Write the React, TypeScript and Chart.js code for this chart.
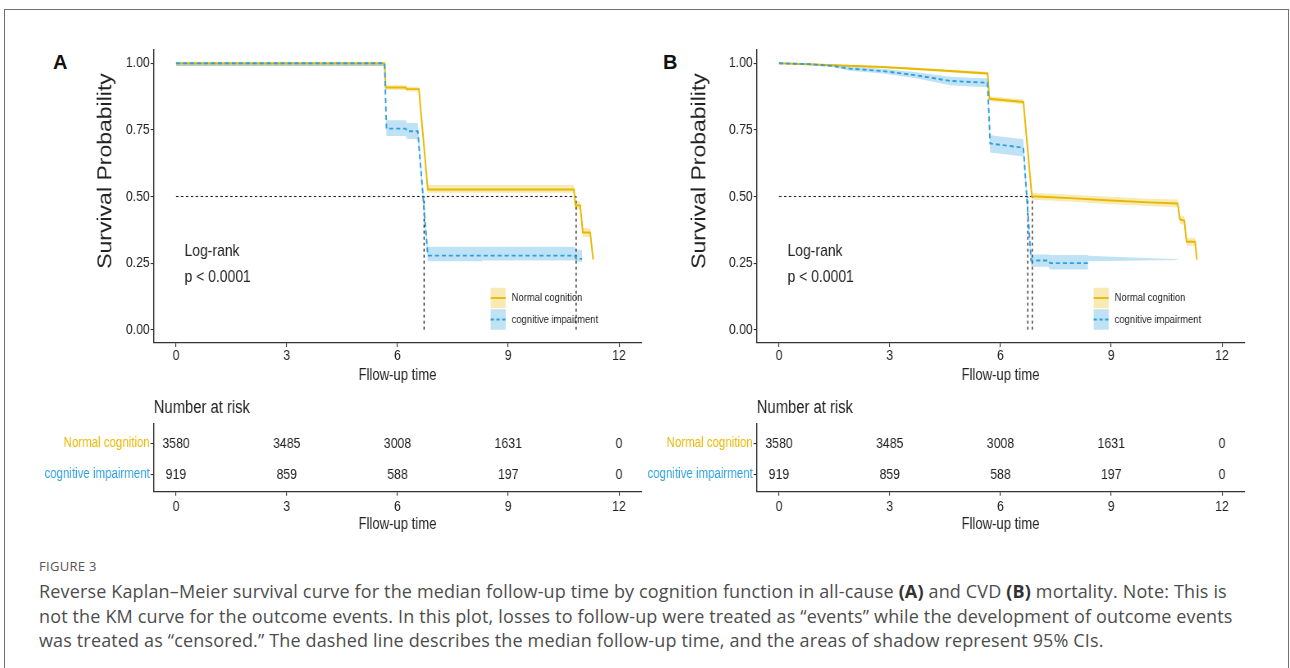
import React, { useEffect, useRef } from "react";
import { Chart, registerables } from "chart.js";

Chart.register(...registerables);

// ---------- colours & fonts ----------
const YELLOW = "#E7B800";
const BLUE = "#2E9FDF";
const YELLOW_BAND = "rgba(231,184,0,0.3)";
const BLUE_BAND = "rgba(46,159,223,0.3)";
const INK = "#222222";
const SANS = "'Liberation Sans', Arial, Helvetica, sans-serif";

// ---------- shared labels / ticks ----------
const timeTicks = [0, 3, 6, 9, 12];
const survivalTicks = [0, 0.25, 0.5, 0.75, 1];
const groupNames = ["Normal cognition", "cognitive impairment"];
const xTitle = "Fllow-up time";
const yTitle = "Survival Probability";
const riskTitle = "Number at risk";
const logRankText = ["Log-rank", "p < 0.0001"];
const medianLevel = 0.5;

// ---------- number at risk ----------
const riskTimes = [0, 3, 6, 9, 12];
const riskNormal = [3580, 3485, 3008, 1631, 0];
const riskImpaired = [919, 859, 588, 197, 0];

// ---------- Panel A (all-cause) ----------
const aNormalT = [0, 5.65, 5.68, 6.22, 6.25, 6.58, 6.82, 10.78, 10.82, 10.95, 11.02, 11.22, 11.3];
const aNormalS = [1.0, 1.0, 0.909, 0.909, 0.903, 0.903, 0.526, 0.526, 0.466, 0.466, 0.365, 0.365, 0.263];
const aNormalUp = [1.0, 1.0, 0.918, 0.918, 0.912, 0.912, 0.543, 0.543, 0.482, 0.482, 0.382, 0.382, 0.263];
const aNormalLo = [0.99, 0.99, 0.9, 0.9, 0.894, 0.894, 0.514, 0.514, 0.45, 0.45, 0.348, 0.348, 0.263];

const aImpT = [0, 5.65, 5.7, 6.22, 6.26, 6.55, 6.82, 10.8, 10.84, 11.0];
const aImpS = [1.0, 1.0, 0.755, 0.755, 0.745, 0.745, 0.278, 0.278, 0.266, 0.266];
const aImpBandT = [0, 5.65, 5.7, 6.22, 6.26, 6.55, 6.82, 8.3, 8.3, 10.8, 10.84, 11.0];
const aImpUp = [1.0, 1.0, 0.786, 0.786, 0.776, 0.776, 0.311, 0.311, 0.311, 0.311, 0.3, 0.3];
const aImpLo = [0.99, 0.99, 0.727, 0.727, 0.716, 0.716, 0.257, 0.257, 0.26, 0.26, 0.255, 0.255];
const aMedians = [6.72, 10.84];

// ---------- Panel B (CVD) ----------
const bNormalT = [0, 1.5, 2.8, 4.2, 5.65, 5.7, 6.62, 6.85, 8.0, 9.0, 10.0, 10.8, 10.86, 10.98, 11.04, 11.27, 11.32];
const bNormalS = [1.0, 0.993, 0.986, 0.975, 0.962, 0.867, 0.855, 0.501, 0.493, 0.485, 0.478, 0.474, 0.414, 0.41, 0.33, 0.33, 0.263];
const bNormalUp = [1.0, 0.996, 0.99, 0.98, 0.968, 0.876, 0.864, 0.514, 0.506, 0.499, 0.492, 0.489, 0.43, 0.426, 0.345, 0.345, 0.263];
const bNormalLo = [1.0, 0.99, 0.982, 0.97, 0.956, 0.858, 0.846, 0.488, 0.48, 0.471, 0.464, 0.459, 0.398, 0.394, 0.315, 0.315, 0.263];

const bImpT = [0, 0.8, 1.46, 1.92, 2.8, 3.72, 4.63, 5.2, 5.65, 5.72, 6.62, 6.83, 7.3, 7.34, 8.37];
const bImpS = [1.0, 0.997, 0.99, 0.98, 0.971, 0.955, 0.934, 0.93, 0.927, 0.699, 0.683, 0.26, 0.26, 0.25, 0.25];
const bImpBandT = [0, 0.8, 1.46, 1.92, 2.8, 3.72, 4.63, 5.2, 5.65, 5.72, 6.62, 6.83, 7.3, 7.34, 8.37, 8.37, 10.8];
const bImpUp = [1.0, 1.0, 0.995, 0.988, 0.98, 0.966, 0.95, 0.946, 0.944, 0.73, 0.715, 0.282, 0.282, 0.28, 0.28, 0.278, 0.264];
const bImpLo = [1.0, 0.994, 0.985, 0.972, 0.962, 0.944, 0.918, 0.913, 0.91, 0.665, 0.65, 0.236, 0.236, 0.226, 0.226, 0.257, 0.262];
const bMedians = [6.74, 6.86];

// ---------- caption ----------
const captionLabel = "FIGURE 3";
const captionLines: (string | { b: string })[][] = [
  [
    "Reverse Kaplan–Meier survival curve for the median follow-up time by cognition function in all-cause ",
    { b: "(A)" },
    " and CVD ",
    { b: "(B)" },
    " mortality. Note: This is",
  ],
  [
    "not the KM curve for the outcome events. In this plot, losses to follow-up were treated as “events” while the development of outcome events",
  ],
  [
    "was treated as “censored.” The dashed line describes the median follow-up time, and the areas of shadow represent 95% CIs.",
  ],
];

type Panel = {
  normT: number[]; normS: number[]; normUp: number[]; normLo: number[];
  impT: number[]; impS: number[]; impBandT: number[]; impUp: number[]; impLo: number[];
  medians: number[]; yTitleGap: number;
};

const panelA: Panel = {
  normT: aNormalT, normS: aNormalS, normUp: aNormalUp, normLo: aNormalLo,
  impT: aImpT, impS: aImpS, impBandT: aImpBandT, impUp: aImpUp, impLo: aImpLo,
  medians: aMedians, yTitleGap: 58.6,
};
const panelB: Panel = {
  normT: bNormalT, normS: bNormalS, normUp: bNormalUp, normLo: bNormalLo,
  impT: bImpT, impS: bImpS, impBandT: bImpBandT, impUp: bImpUp, impLo: bImpLo,
  medians: bMedians, yTitleGap: 69.4,
};

// The whole figure is horizontally condensed: canvases are drawn wide and squeezed.
const SQUEEZE = 0.82;
const CANVAS_W = 780;
const Y_AXIS_W = 177.87;
const RIGHT_PAD = 7.9;

const pts = (t: number[], s: number[]) => t.map((x, i) => ({ x, y: s[i] }));
const band = (t: number[], up: number[], lo: number[]) => [...pts(t, up), ...pts(t, lo).reverse()];

function axisCommon(borderW: number) {
  return {
    grid: { drawOnChartArea: false, drawTicks: true, tickLength: 4, color: "#333", lineWidth: 1.1 },
    border: { display: true, color: "#333", width: borderW },
  };
}

function xAxis(height: number, tickPad: number, titlePadBottom: number) {
  return {
    type: "linear",
    min: -0.6,
    max: 12.6,
    ...axisCommon(1.2),
    afterBuildTicks: (s: any) => {
      s.ticks = timeTicks.map((v) => ({ value: v }));
    },
    afterFit: (s: any) => {
      s.height = height;
    },
    ticks: {
      font: { family: SANS, size: 15 },
      color: INK,
      padding: tickPad,
      maxRotation: 0,
      autoSkip: false,
      callback: (v: any) => String(v),
    },
    title: {
      display: true,
      text: xTitle,
      font: { family: SANS, size: 16 },
      color: INK,
      padding: { top: 0, bottom: titlePadBottom },
    },
  };
}

function makeSurvival(canvas: HTMLCanvasElement, p: Panel) {
  const lineBase = { pointRadius: 0, pointHoverRadius: 0, tension: 0, fill: false };
  const medEnd = Math.max(...p.medians);
  const dash = { borderColor: INK, borderWidth: 1.1, borderDash: [3, 3] };
  const datasets: any[] = [
    { ...lineBase, data: pts(p.impT, p.impS), borderColor: BLUE, borderWidth: 1.9, borderDash: [5, 3.5] },
    { ...lineBase, data: pts(p.normT, p.normS), borderColor: YELLOW, borderWidth: 1.9 },
    { ...lineBase, ...dash, data: [{ x: 0, y: medianLevel }, { x: medEnd, y: medianLevel }] },
    ...p.medians.map((m) => ({ ...lineBase, ...dash, borderWidth: 1.3, data: [{ x: m, y: 0 }, { x: m, y: medianLevel }] })),
    {
      ...lineBase,
      data: band(p.impBandT, p.impUp, p.impLo),
      fill: "shape",
      backgroundColor: BLUE_BAND,
      borderColor: "rgba(0,0,0,0)",
      borderWidth: 0.01,
    },
    {
      ...lineBase,
      data: band(p.normT, p.normUp, p.normLo),
      fill: "shape",
      backgroundColor: YELLOW_BAND,
      borderColor: "rgba(0,0,0,0)",
      borderWidth: 0.01,
    },
  ];

  const decor = {
    id: "decor",
    afterDatasetsDraw(chart: any) {
      const { ctx, chartArea: a, scales } = chart;
      const x = scales.x;
      const y = scales.y;
      // y title
      ctx.save();
      ctx.translate(a.left - p.yTitleGap, a.top + 121);
      ctx.rotate(-Math.PI / 2);
      ctx.font = `23px ${SANS}`;
      ctx.fillStyle = INK;
      ctx.textAlign = "center";
      ctx.textBaseline = "middle";
      ctx.fillText(yTitle, 0, 0);
      ctx.restore();
      // log-rank
      ctx.save();
      ctx.font = `17px ${SANS}`;
      ctx.fillStyle = INK;
      ctx.textAlign = "left";
      ctx.textBaseline = "middle";
      ctx.fillText(logRankText[0], x.getPixelForValue(0.23), y.getPixelForValue(0.294));
      ctx.fillText(logRankText[1], x.getPixelForValue(0.23), y.getPixelForValue(0.197));
      ctx.restore();
      // legend
      const kx = a.right - 183.5;
      const kw = 18.3;
      const kh = 20.5;
      const rows = [a.bottom - 45, a.bottom - 23.5];
      const keys = [
        { band: YELLOW_BAND, color: YELLOW, dash: [] as number[] },
        { band: BLUE_BAND, color: BLUE, dash: [4, 3] },
      ];
      keys.forEach((k, i) => {
        const cy = rows[i];
        ctx.save();
        ctx.fillStyle = k.band;
        ctx.fillRect(kx, cy - kh / 2, kw, kh);
        ctx.strokeStyle = k.color;
        ctx.lineWidth = 1.8;
        ctx.setLineDash(k.dash);
        ctx.beginPath();
        ctx.moveTo(kx, cy);
        ctx.lineTo(kx + kw, cy);
        ctx.stroke();
        ctx.setLineDash([]);
        ctx.font = `11.5px ${SANS}`;
        ctx.fillStyle = INK;
        ctx.textAlign = "left";
        ctx.textBaseline = "middle";
        ctx.fillText(groupNames[i], kx + 25.6, cy);
        ctx.restore();
      });
    },
  };

  return new Chart(canvas, {
    type: "line",
    data: { datasets },
    options: {
      responsive: false,
      animation: false,
      events: [],
      layout: { padding: { top: 10, right: RIGHT_PAD, bottom: 0, left: 0 } },
      plugins: {
        legend: { display: false },
        tooltip: { enabled: false },
        title: { display: false },
      },
      scales: {
        x: xAxis(57, 0, 14.8) as any,
        y: {
          type: "linear",
          min: -0.05,
          max: 1.05,
          ...axisCommon(1.4),
          afterBuildTicks: (s: any) => {
            s.ticks = survivalTicks.map((v) => ({ value: v }));
          },
          afterFit: (s: any) => {
            s.width = Y_AXIS_W;
          },
          ticks: {
            font: { family: SANS, size: 15 },
            color: INK,
            padding: 1,
            callback: (v: any) => Number(v).toFixed(2),
          },
        } as any,
      },
    },
    plugins: [decor],
  } as any);
}

function makeRisk(canvas: HTMLCanvasElement) {
  const rows = [riskNormal, riskImpaired];
  const datasets = rows.map((_, r) => ({
    data: riskTimes.map((t) => ({ x: t, y: r + 1 })),
    pointRadius: 0,
    showLine: false,
  }));
  const numbers = {
    id: "numbers",
    afterDatasetsDraw(chart: any) {
      const ctx = chart.ctx;
      ctx.save();
      ctx.font = `15px ${SANS}`;
      ctx.fillStyle = INK;
      ctx.textAlign = "center";
      ctx.textBaseline = "middle";
      rows.forEach((counts, r) => {
        const meta = chart.getDatasetMeta(r);
        meta.data.forEach((el: any, i: number) => {
          ctx.fillText(String(counts[i]), el.x, el.y);
        });
      });
      ctx.restore();
    },
  };
  return new Chart(canvas, {
    type: "scatter",
    data: { datasets },
    options: {
      responsive: false,
      animation: false,
      events: [],
      layout: { padding: { top: 0, right: RIGHT_PAD, bottom: 0, left: 0 } },
      plugins: {
        legend: { display: false },
        tooltip: { enabled: false },
        title: {
          display: true,
          text: riskTitle,
          align: "start",
          fullSize: false,
          color: INK,
          font: { family: SANS, size: 18, weight: "normal" },
          padding: { top: 7.5, bottom: 4.2 },
        },
      },
      scales: {
        x: xAxis(48.3, 2, 5.4) as any,
        y: {
          type: "linear",
          min: 0.35,
          max: 2.55,
          reverse: true,
          ...axisCommon(1.4),
          afterBuildTicks: (s: any) => {
            s.ticks = [{ value: 1 }, { value: 2 }];
          },
          afterFit: (s: any) => {
            s.width = Y_AXIS_W;
          },
          ticks: {
            font: { family: SANS, size: 14 },
            color: (c: any) => (c.index === 0 ? YELLOW : BLUE),
            padding: 1,
            callback: (v: any) => groupNames[Number(v) - 1],
          },
        } as any,
      },
    },
    plugins: [numbers],
  } as any);
}

export default function App() {
  const aSurv = useRef<HTMLCanvasElement>(null);
  const aRisk = useRef<HTMLCanvasElement>(null);
  const bSurv = useRef<HTMLCanvasElement>(null);
  const bRisk = useRef<HTMLCanvasElement>(null);

  useEffect(() => {
    const charts = [
      makeSurvival(aSurv.current!, panelA),
      makeRisk(aRisk.current!),
      makeSurvival(bSurv.current!, panelB),
      makeRisk(bRisk.current!),
    ];
    return () => charts.forEach((c) => c.destroy());
  }, []);

  const canvasStyle = (left: number, top: number, h: number): React.CSSProperties => ({
    position: "absolute",
    left,
    top,
    width: CANVAS_W,
    height: h,
    transform: `scaleX(${SQUEEZE})`,
    transformOrigin: "0 0",
  });

  const captionStyle: React.CSSProperties = {
    position: "absolute",
    left: 39,
    fontFamily: "'Open Sans', sans-serif",
    fontSize: 18,
    letterSpacing: 0.15,
    lineHeight: "24px",
    color: "#4d4d4d",
    whiteSpace: "nowrap",
  };

  const panelLetter = (left: number, text: string) => (
    <div
      style={{
        position: "absolute",
        left,
        top: 50,
        fontFamily: SANS,
        fontWeight: "bold",
        fontSize: 20,
        lineHeight: "24px",
        color: "#111",
      }}
    >
      {text}
    </div>
  );

  return (
    <div
      style={{
        position: "fixed",
        left: 0,
        top: 0,
        width: 1290,
        height: 668,
        overflow: "hidden",
        background: "#fff",
      }}
    >
      <div
        style={{
          position: "absolute",
          left: 4,
          top: 9,
          width: 1285,
          height: 700,
          border: "1.5px solid #707070",
          boxSizing: "border-box",
        }}
      />
      {panelLetter(53, "A")}
      {panelLetter(663, "B")}
      <canvas ref={aSurv} width={CANVAS_W} height={360} style={canvasStyle(8, 40, 360)} />
      <canvas ref={aRisk} width={CANVAS_W} height={150} style={canvasStyle(8, 390, 150)} />
      <canvas ref={bSurv} width={CANVAS_W} height={360} style={canvasStyle(611, 40, 360)} />
      <canvas ref={bRisk} width={CANVAS_W} height={150} style={canvasStyle(611, 390, 150)} />
      <div
        style={{
          ...captionStyle,
          top: 556,
          fontSize: 13,
          lineHeight: "20px",
          letterSpacing: 0.3,
          color: "#555",
        }}
      >
        {captionLabel}
      </div>
      {captionLines.map((line, i) => (
        <div key={i} style={{ ...captionStyle, top: 579 + i * 24.5 }}>
          {line.map((seg, j) =>
            typeof seg === "string" ? (
              <span key={j}>{seg}</span>
            ) : (
              <b key={j} style={{ color: "#333" }}>
                {seg.b}
              </b>
            )
          )}
        </div>
      ))}
    </div>
  );
}
